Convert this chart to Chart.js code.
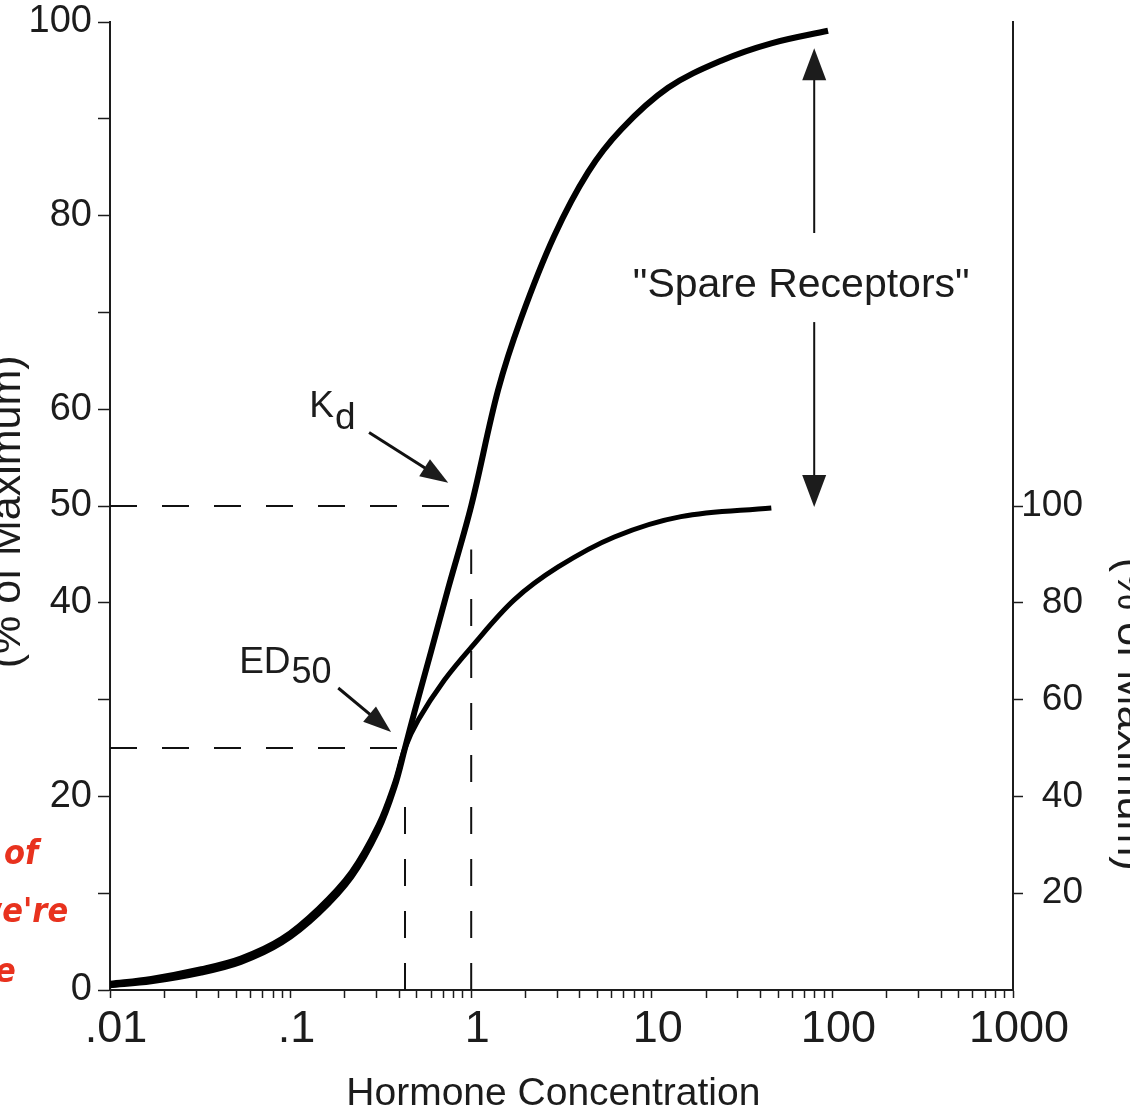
<!DOCTYPE html>
<html>
<head>
<meta charset="utf-8">
<script src="https://cdn.jsdelivr.net/npm/chart.js@4.4.1/dist/chart.umd.min.js"></script>
<style>
  html, body { margin: 0; padding: 0; background: #fff; overflow: hidden; }
  #wrap { position: relative; width: 1130px; height: 1114px; overflow: hidden; }
  canvas { display: block; }
  .rabisco { position: absolute; color: #e8321e; font: italic 34px 'DejaVu Sans Condensed', 'DejaVu Sans', sans-serif; font-weight: 600; white-space: nowrap; }
</style>
</head>
<body>
<div id="wrap">
  <canvas id="grafico" width="1130" height="1114"></canvas>
  <div class="rabisco" style="left:4px; top:832px;">of</div>
  <div class="rabisco" style="left:-26px; top:890px;">we're</div>
  <div class="rabisco" style="left:-20px; top:950px;">re</div>
</div>
<script>
// --- Dados ---
// curva de ligação (eixo esquerdo, % do máximo)
const bindingConc = [0.01, 0.0169, 0.032, 0.053, 0.089, 0.142, 0.217, 0.305, 0.375, 0.43, 0.483, 0.6, 0.746, 1, 1.41, 1.89, 2.88, 4.44, 6.77, 12.3, 24.2, 45.9, 94.6];
const bindingPct  = [0.5, 0.9, 1.8, 2.9, 4.9, 7.9, 11.7, 16.5, 20.9, 25, 28.6, 35.0, 41.5, 50, 62.0, 69.4, 77.9, 84.5, 88.9, 93.2, 96.0, 97.8, 99.1];
// curva de resposta (mesma escala esquerda, vai até 50)
const responseConc = [0.01, 0.0169, 0.032, 0.053, 0.089, 0.142, 0.217, 0.305, 0.375, 0.43, 0.509, 0.709, 1, 1.73, 3.03, 6.2, 14.5, 45.9];
const responsePct  = [0.7, 1.2, 2.2, 3.3, 5.3, 8.4, 12.2, 17.0, 21.3, 25, 27.9, 32.0, 35.4, 40.3, 43.7, 46.8, 48.9, 49.8];

const kdConc = 1;
const kdPct = 50;
const ed50Conc = 0.43;
const ed50Pct = 25;

// eixos
const xTickValues = [0.01, 0.1, 1, 10, 100, 1000];
const xTickLabels = ['.01', '.1', '1', '10', '100', '1000'];
const leftTicks = [0, 10, 20, 30, 40, 50, 60, 70, 80, 90, 100];
const leftLabels = [0, 20, 40, 50, 60, 80, 100];
const rightTicks = [20, 40, 60, 80, 100];

const FONTE = "'Liberation Sans', Arial, Helvetica, sans-serif";
const TINTA = '#1c1c1c';

// --- Setas e textos ---
function seta(ctx, x1, y1, x2, y2, comp, larg, lw) {
    const ang = Math.atan2(y2 - y1, x2 - x1);
    const c = Math.cos(ang), s = Math.sin(ang);
    ctx.lineWidth = lw;
    ctx.beginPath();
    ctx.moveTo(x1, y1);
    ctx.lineTo(x2 - c * comp * 0.8, y2 - s * comp * 0.8);
    ctx.stroke();
    ctx.beginPath();
    ctx.moveTo(x2, y2);
    ctx.lineTo(x2 - comp * c + larg / 2 * s, y2 - comp * s - larg / 2 * c);
    ctx.lineTo(x2 - comp * c - larg / 2 * s, y2 - comp * s + larg / 2 * c);
    ctx.closePath();
    ctx.fill();
}

function textoComIndice(ctx, base, indice, x, y, tam, tamIdx, desce) {
    ctx.font = tam + 'px ' + FONTE;
    ctx.textAlign = 'left';
    ctx.textBaseline = 'alphabetic';
    ctx.fillText(base, x, y);
    const w = ctx.measureText(base).width;
    ctx.font = tamIdx + 'px ' + FONTE;
    ctx.fillText(indice, x + w + 1, y + desce);
}

const anotacoes = {
    id: 'anotacoes',
    afterDraw(chart) {
        const { ctx, chartArea } = chart;
        const x = chart.scales.x, y = chart.scales.y, y2 = chart.scales.y2;
        const px = v => x.getPixelForValue(v);
        const py = v => y.getPixelForValue(v);
        ctx.save();
        ctx.fillStyle = TINTA;
        ctx.strokeStyle = '#111';

        // Kd
        textoComIndice(ctx, 'K', 'd', px(0.127), py(59.2), 37, 37, 12);
        seta(ctx, px(0.272), py(57.6), px(0.746), py(52.4), 28, 20, 3);

        // ED50
        textoComIndice(ctx, 'ED', '50', px(0.0519), py(32.7), 37, 36, 10);
        seta(ctx, px(0.1836), py(31.2), px(0.36), py(26.65), 28, 20, 3);

        // "Spare Receptors"
        ctx.font = '41px ' + FONTE;
        ctx.textAlign = 'center';
        ctx.fillText('"Spare Receptors"', px(67.2), py(71.6));
        seta(ctx, px(79.3), py(78.2), px(79.3), py(97.3), 32, 24, 2);
        seta(ctx, px(79.3), py(69.0), px(79.3), py(49.9), 32, 24, 2);

        // títulos dos eixos verticais (cortados na borda)
        ctx.font = '43px ' + FONTE;
        ctx.textAlign = 'center';
        ctx.textBaseline = 'alphabetic';
        ctx.save();
        ctx.translate(chartArea.left - 90, py(49.4));
        ctx.rotate(-Math.PI / 2);
        ctx.fillText('(% of Maximum)', 0, 0);
        ctx.restore();
        ctx.save();
        ctx.translate(chartArea.right + 105, y2.getPixelForValue(57));
        ctx.rotate(Math.PI / 2);
        ctx.fillText('(% of Maximum)', 0, 0);
        ctx.restore();

        // título do eixo x (um pouco à esquerda do centro, como no original)
        ctx.font = '39px ' + FONTE;
        ctx.textAlign = 'center';
        ctx.fillText('Hormone Concentration', px(2.85), x.bottom - 9);

        ctx.restore();
    }
};

// --- Gráfico ---
const curva = (xs, ys) => xs.map((v, i) => ({ x: v, y: ys[i] }));
const tracejado = {
    borderColor: '#111', borderWidth: 2, borderDash: [27, 25],
    pointRadius: 0, fill: false, tension: 0
};
const semSobra = s => { s.paddingTop = 0; s.paddingBottom = 0; };

const ctx = document.getElementById('grafico').getContext('2d');
new Chart(ctx, {
    type: 'line',
    data: {
        datasets: [
            {
                label: 'Binding',
                data: curva(bindingConc, bindingPct),
                borderColor: '#000', borderWidth: 6,
                pointRadius: 0, tension: 0.35, fill: false
            },
            {
                label: 'Response',
                data: curva(responseConc, responsePct),
                borderColor: '#000', borderWidth: 5,
                pointRadius: 0, tension: 0.35, fill: false
            },
            Object.assign({ data: [{ x: 0.01, y: kdPct }, { x: kdConc, y: kdPct }] }, tracejado),
            Object.assign({ data: [{ x: kdConc, y: 0 }, { x: kdConc, y: 45.5 }] }, tracejado),
            Object.assign({ data: [{ x: 0.01, y: ed50Pct }, { x: ed50Conc, y: ed50Pct }] }, tracejado),
            Object.assign({ data: [{ x: ed50Conc, y: 0 }, { x: ed50Conc, y: 21 }] }, tracejado)
        ]
    },
    options: {
        responsive: false,
        animation: false,
        layout: { padding: { top: 22, right: 47, left: 0, bottom: 0 } },
        plugins: { legend: { display: false }, tooltip: { enabled: false } },
        scales: {
            x: {
                type: 'logarithmic',
                min: 0.01, max: 1000,
                afterBuildTicks: s => {
                    const t = [];
                    xTickValues.forEach((d, i) => {
                        t.push({ value: d });
                        if (i < xTickValues.length - 1) {
                            for (let m = 2; m <= 9; m++) t.push({ value: d * m });
                        }
                    });
                    s.ticks = t;
                },
                afterFit: s => { s.height = 124; },
                border: { display: true, color: TINTA, width: 2 },
                grid: { drawOnChartArea: false, drawTicks: true, tickLength: 8, color: TINTA, tickWidth: 1.5 },
                ticks: {
                    autoSkip: false, maxRotation: 0, padding: 5, labelOffset: 6,
                    color: TINTA, font: { family: FONTE, size: 45 },
                    callback: v => {
                        const i = xTickValues.findIndex(d => Math.abs(d - v) / d < 1e-6);
                        return i >= 0 ? xTickLabels[i] : '';
                    }
                }
            },
            y: {
                position: 'left',
                min: 0, max: 100,
                afterBuildTicks: s => { s.ticks = leftTicks.map(v => ({ value: v })); },
                afterFit: s => { s.width = 110; semSobra(s); },
                border: { display: true, color: TINTA, width: 2 },
                grid: { drawOnChartArea: false, drawTicks: true, tickLength: 12, color: TINTA, tickWidth: 1.5 },
                ticks: {
                    padding: 6, color: TINTA, font: { family: FONTE, size: 38 },
                    callback: v => leftLabels.includes(v) ? String(v) : ''
                }
            },
            y2: {
                position: 'right',
                min: 0, max: 200,
                afterBuildTicks: s => { s.ticks = rightTicks.map(v => ({ value: v })); },
                afterFit: s => { s.width = 70; semSobra(s); },
                border: { display: true, color: TINTA, width: 2 },
                grid: { drawOnChartArea: false, drawTicks: true, tickLength: 10, color: TINTA, tickWidth: 1.5 },
                ticks: {
                    padding: 4, crossAlign: 'far', color: TINTA, font: { family: FONTE, size: 37 },
                    callback: v => String(v)
                }
            }
        }
    },
    plugins: [anotacoes]
});
</script>
</body>
</html>
